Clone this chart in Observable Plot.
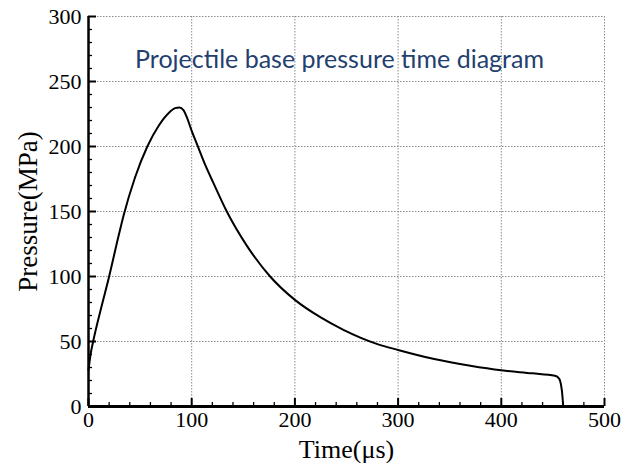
<!DOCTYPE html>
<html>
<head>
<meta charset="utf-8">
<script src="https://cdn.jsdelivr.net/npm/d3@7"></script>
<script src="https://cdn.jsdelivr.net/npm/@observablehq/plot@0.6"></script>
<style>
  html, body { margin: 0; padding: 0; background: #fff; }
</style>
</head>
<body>
<div id="chart"></div>
<script>
// Data
const timeUs = [0, 2, 4.5, 12, 20, 27, 34, 45, 57, 68, 78, 84, 88, 92, 96, 100, 105, 113, 121, 134, 154, 176, 200, 225, 247, 280, 300, 335, 370, 400, 430, 452, 456, 458, 459, 460];
const pressureMPa = [28, 40, 50, 75, 100, 124, 147, 176, 200, 216, 226, 229.5, 230, 228, 221, 212, 202, 186, 172, 150, 123, 100, 82, 68.5, 59, 48, 43.5, 36.5, 31.3, 27.8, 25.5, 23.6, 21.5, 16, 10, 0];
const xTickLabels = [0, 100, 200, 300, 400, 500];
const yTickLabels = [0, 50, 100, 150, 200, 250, 300];
const xMinorTicks = d3.range(0, 501, 20).filter(v => v % 100 !== 0);
const yMinorTicks = d3.range(0, 301, 10).filter(v => v % 50 !== 0);
const titleText = "Projectile base pressure time diagram";
const xLabel = "Time(\u03bcs)";
const yLabel = "Pressure(MPa)";

const data = timeUs.map((t, i) => ({t, p: pressureMPa[i]}));

const chart = Plot.plot({
  width: 623,
  height: 463,
  marginLeft: 88,
  marginRight: 19,
  marginTop: 16,
  marginBottom: 57,
  style: {fontFamily: "'Liberation Serif', 'Times New Roman', serif", fontSize: "22px", background: "#fff", color: "#000"},
  x: {domain: [0, 500]},
  y: {domain: [0, 300]},
  marks: [
    Plot.gridX(xTickLabels, {stroke: "#8a8a8a", strokeOpacity: 1, strokeWidth: 1, strokeDasharray: "1.5,1.5"}),
    Plot.gridY(yTickLabels, {stroke: "#8a8a8a", strokeOpacity: 1, strokeWidth: 1, strokeDasharray: "1.5,1.5"}),
    // inward tick marks
    Plot.tickX(xTickLabels, {x: d => d, insetTop: 382, stroke: "#000", strokeWidth: 2}),
    Plot.tickX(xMinorTicks, {x: d => d, insetTop: 386, stroke: "#000", strokeWidth: 1.3}),
    Plot.tickY(yTickLabels, {y: d => d, insetRight: 508, stroke: "#000", strokeWidth: 2}),
    Plot.tickY(yMinorTicks, {y: d => d, insetRight: 512, stroke: "#000", strokeWidth: 1.3}),
    Plot.axisX(xTickLabels, {tickSize: 0, tickPadding: 5, label: null, fontSize: 22}),
    Plot.axisY(yTickLabels, {tickSize: 0, tickPadding: 7, label: null, fontSize: 22}),
    Plot.ruleY([0], {stroke: "#000", strokeWidth: 3}),
    Plot.ruleX([0], {stroke: "#000", strokeWidth: 2.5}),
    Plot.line(data, {x: "t", y: "p", stroke: "#000", strokeWidth: 2, curve: "monotone-x"}),
    Plot.text([titleText], {frameAnchor: "top", textAnchor: "middle", lineAnchor: "middle", dx: -7, dy: 43, fontFamily: "Lato, 'Open Sans', sans-serif", fontSize: 25, fill: "#243f6e", text: d => d}),
    Plot.text([xLabel], {frameAnchor: "bottom", textAnchor: "middle", lineAnchor: "middle", dy: 43, fontSize: 26, text: d => d}),
    Plot.text([yLabel], {frameAnchor: "left", textAnchor: "middle", lineAnchor: "middle", dx: -60, rotate: -90, fontSize: 27, text: d => d})
  ]
});
document.getElementById("chart").append(chart);
</script>
</body>
</html>
